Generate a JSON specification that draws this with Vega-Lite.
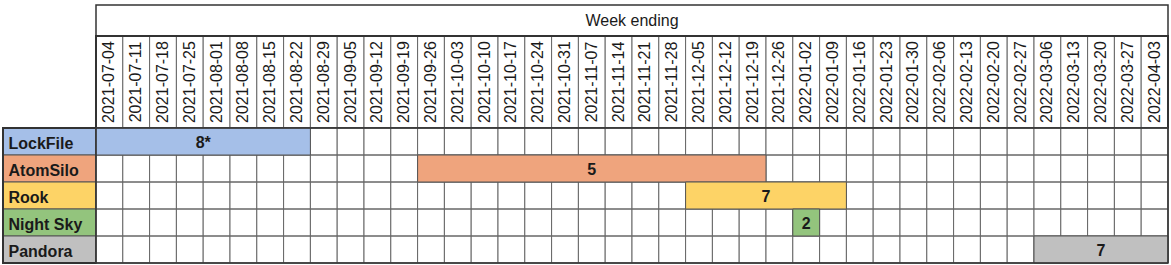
{
  "$schema": "https://vega.github.io/schema/vega-lite/v6.json",
  "padding": {"left": 2, "top": 4, "right": 0, "bottom": 0},
  "background": "white",
  "config": {"view": {"stroke": null}, "font": "Liberation Sans", "text": {"color": "#1a1a1a"}},
  "datasets": {
    "heading": [{"title": "Week ending"}],
    "weeks": [
      {"week": "2021-07-04"}, {"week": "2021-07-11"}, {"week": "2021-07-18"}, {"week": "2021-07-25"},
      {"week": "2021-08-01"}, {"week": "2021-08-08"}, {"week": "2021-08-15"}, {"week": "2021-08-22"},
      {"week": "2021-08-29"}, {"week": "2021-09-05"}, {"week": "2021-09-12"}, {"week": "2021-09-19"},
      {"week": "2021-09-26"}, {"week": "2021-10-03"}, {"week": "2021-10-10"}, {"week": "2021-10-17"},
      {"week": "2021-10-24"}, {"week": "2021-10-31"}, {"week": "2021-11-07"}, {"week": "2021-11-14"},
      {"week": "2021-11-21"}, {"week": "2021-11-28"}, {"week": "2021-12-05"}, {"week": "2021-12-12"},
      {"week": "2021-12-19"}, {"week": "2021-12-26"}, {"week": "2022-01-02"}, {"week": "2022-01-09"},
      {"week": "2022-01-16"}, {"week": "2022-01-23"}, {"week": "2022-01-30"}, {"week": "2022-02-06"},
      {"week": "2022-02-13"}, {"week": "2022-02-20"}, {"week": "2022-02-27"}, {"week": "2022-03-06"},
      {"week": "2022-03-13"}, {"week": "2022-03-20"}, {"week": "2022-03-27"}, {"week": "2022-04-03"}
    ],
    "attacks": [
      {"project": "LockFile", "start": "2021-07-04", "end": "2021-08-22", "mid": "2021-08-01", "span": 8, "label": "8*"},
      {"project": "AtomSilo", "start": "2021-09-26", "end": "2021-12-19", "mid": "2021-11-07", "span": 13, "label": "5"},
      {"project": "Rook", "start": "2021-12-05", "end": "2022-01-09", "mid": "2021-12-26", "span": 6, "label": "7"},
      {"project": "Night Sky", "start": "2022-01-02", "end": "2022-01-02", "mid": "2022-01-02", "span": 1, "label": "2"},
      {"project": "Pandora", "start": "2022-03-06", "end": "2022-04-03", "mid": "2022-03-20", "span": 5, "label": "7"}
    ]
  },
  "columns": 2,
  "spacing": 0,
  "align": "each",
  "bounds": "flush",
  "concat": [
    {
      "width": 93, "height": 31,
      "data": {"name": "heading"},
      "mark": {"type": "rect", "opacity": 0},
      "encoding": {}
    },
    {
      "width": 1072, "height": 31,
      "data": {"name": "heading"},
      "layer": [
        {"mark": {"type": "rect", "fill": "white", "stroke": "#333", "strokeWidth": 1.5}, "encoding": {}},
        {"mark": {"type": "text", "fontSize": 16}, "encoding": {"text": {"field": "title"}}}
      ]
    },
    {
      "width": 93, "height": 92,
      "data": {"name": "heading"},
      "mark": {"type": "rect", "opacity": 0},
      "encoding": {}
    },
    {
      "width": 1072, "height": 92,
      "data": {"name": "weeks"},
      "layer": [
        {
          "mark": {"type": "rect", "fill": "white", "stroke": "#666", "strokeWidth": 1},
          "encoding": {"x": {"field": "week", "type": "ordinal", "scale": {"paddingInner": 0, "paddingOuter": 0}, "axis": null}}
        },
        {
          "mark": {"type": "text", "angle": 270, "fontSize": 16},
          "encoding": {"x": {"field": "week", "type": "ordinal"}, "text": {"field": "week"}}
        },
        {"mark": {"type": "rect", "filled": false, "color": "#333", "strokeWidth": 1.5}, "encoding": {}}
      ]
    },
    {
      "width": 93, "height": 135,
      "data": {"name": "attacks"},
      "layer": [
        {
          "mark": {"type": "rect", "stroke": "#555", "strokeWidth": 1},
          "encoding": {
            "y": {"field": "project", "type": "nominal", "sort": ["LockFile", "AtomSilo", "Rook", "Night Sky", "Pandora"], "scale": {"paddingInner": 0, "paddingOuter": 0}, "axis": null},
            "color": {"field": "project", "type": "nominal", "scale": {"domain": ["LockFile", "AtomSilo", "Rook", "Night Sky", "Pandora"], "range": ["#a5bfe8", "#efa47d", "#fdd366", "#93c47d", "#c0c0c0"]}, "legend": null}
          }
        },
        {
          "mark": {"type": "text", "align": "left", "dx": -41, "dy": 2, "fontSize": 16, "fontWeight": "bold"},
          "encoding": {
            "y": {"field": "project", "type": "nominal", "sort": ["LockFile", "AtomSilo", "Rook", "Night Sky", "Pandora"]},
            "text": {"field": "project"}
          }
        },
        {"mark": {"type": "rect", "filled": false, "color": "#333", "strokeWidth": 1.5}, "encoding": {}}
      ]
    },
    {
      "width": 1072, "height": 135,
      "layer": [
        {
          "data": {"name": "weeks"},
          "mark": {"type": "rect", "fill": "white", "stroke": "#666", "strokeWidth": 1},
          "encoding": {
            "x": {"field": "week", "type": "ordinal", "scale": {"paddingInner": 0, "paddingOuter": 0}, "axis": null}
          }
        },
        {
          "data": {"name": "attacks"},
          "mark": {"type": "rect", "filled": false, "color": "#666", "strokeWidth": 1},
          "encoding": {
            "y": {"field": "project", "type": "nominal", "sort": ["LockFile", "AtomSilo", "Rook", "Night Sky", "Pandora"], "scale": {"paddingInner": 0, "paddingOuter": 0}, "axis": null}
          }
        },
        {
          "data": {"name": "attacks"},
          "mark": {"type": "rect", "stroke": "#555", "strokeWidth": 1},
          "encoding": {
            "x": {"field": "start", "type": "ordinal", "bandPosition": 0},
            "x2": {"field": "end", "bandPosition": 1},
            "y": {"field": "project", "type": "nominal", "sort": ["LockFile", "AtomSilo", "Rook", "Night Sky", "Pandora"]},
            "color": {"field": "project", "type": "nominal", "scale": {"domain": ["LockFile", "AtomSilo", "Rook", "Night Sky", "Pandora"], "range": ["#a5bfe8", "#efa47d", "#fdd366", "#93c47d", "#c0c0c0"]}, "legend": null}
          }
        },
        {
          "data": {"name": "attacks"},
          "transform": [{"filter": "datum.span % 2 == 1"}],
          "mark": {"type": "text", "fontSize": 16, "fontWeight": "bold", "dy": 1},
          "encoding": {
            "x": {"field": "mid", "type": "ordinal", "bandPosition": 0.5},
            "y": {"field": "project", "type": "nominal", "sort": ["LockFile", "AtomSilo", "Rook", "Night Sky", "Pandora"]},
            "text": {"field": "label"}
          }
        },
        {
          "data": {"name": "attacks"},
          "transform": [{"filter": "datum.span % 2 == 0"}],
          "mark": {"type": "text", "fontSize": 16, "fontWeight": "bold", "dy": 1},
          "encoding": {
            "x": {"field": "mid", "type": "ordinal", "bandPosition": 0},
            "y": {"field": "project", "type": "nominal", "sort": ["LockFile", "AtomSilo", "Rook", "Night Sky", "Pandora"]},
            "text": {"field": "label"}
          }
        },
        {"data": {"name": "heading"}, "mark": {"type": "rect", "filled": false, "color": "#333", "strokeWidth": 1.5}, "encoding": {}}
      ]
    }
  ]
}
